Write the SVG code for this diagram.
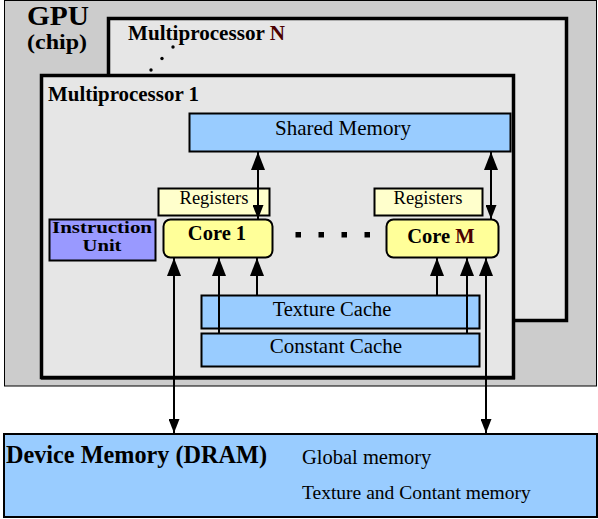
<svg xmlns="http://www.w3.org/2000/svg" width="598" height="519" viewBox="0 0 598 519">
<defs>
<style>
text{font-family:"Liberation Serif","Times New Roman",serif;fill:#000}
.b{font-weight:bold}
.blue{fill:#99ccff;stroke:#000;stroke-width:2}
.reg{fill:#ffffcc;stroke:#000;stroke-width:2}
.core{fill:#ffff99;stroke:#000;stroke-width:2}
.mp{fill:#e6e6e6;stroke:#000;stroke-width:3.5}
.c{stroke:#000;stroke-width:2;fill:none}
.mid{text-anchor:middle}
</style>
<marker id="ah" viewBox="0 0 18 14" refX="18" refY="7" markerWidth="18" markerHeight="14" markerUnits="userSpaceOnUse" orient="auto-start-reverse"><path d="M0,0 L18,7 L0,14 z" fill="#000"/></marker>
<marker id="as" viewBox="0 0 14 11" refX="14" refY="5.5" markerWidth="14" markerHeight="11" markerUnits="userSpaceOnUse" orient="auto-start-reverse"><path d="M0,0 L14,5.5 L0,11 z" fill="#000"/></marker>
</defs>

<g id="gpu">
<rect x="4.5" y="0.5" width="592" height="385.5" fill="#cccccc" stroke="#000" stroke-width="1"/>
<text class="b" x="27" y="25" font-size="27" textLength="62" lengthAdjust="spacingAndGlyphs">GPU</text>
<text class="b" x="27" y="48.5" font-size="20" textLength="60" lengthAdjust="spacingAndGlyphs">(chip)</text>
</g>

<g id="mpN">
<rect class="mp" x="108.5" y="18.5" width="458" height="302"/>
<text class="b" x="128" y="40" font-size="20" textLength="157" lengthAdjust="spacingAndGlyphs">Multiprocessor <tspan fill="#4a0000">N</tspan></text>
<circle cx="173" cy="47" r="1.7" fill="#000"/>
<circle cx="162" cy="58.5" r="1.7" fill="#000"/>
<circle cx="151" cy="70" r="1.7" fill="#000"/>
</g>

<g id="mp1">
<line x1="41" y1="379.5" x2="515" y2="379.5" stroke="#555" stroke-width="1"/>
<rect class="mp" x="41.5" y="75.5" width="472" height="302"/>
<text class="b" x="48" y="101" font-size="20" textLength="151" lengthAdjust="spacingAndGlyphs">Multiprocessor 1</text>
</g>

<g id="shared-memory">
<rect class="blue" x="189.5" y="113.5" width="321" height="38"/>
<text class="mid" x="343" y="135" font-size="21">Shared Memory</text>
</g>

<g id="registers-1">
<rect class="reg" x="158.5" y="188.5" width="111" height="27"/>
<text class="mid" x="214" y="204" font-size="18.5">Registers</text>
</g>

<g id="registers-m">
<rect class="reg" x="374.5" y="188.5" width="108" height="27"/>
<text class="mid" x="428" y="204" font-size="18.5">Registers</text>
</g>

<g id="instruction-unit">
<rect x="49.5" y="219.5" width="106" height="41" fill="#9999ff" stroke="#000" stroke-width="2"/>
<text class="b mid" x="102" y="233" font-size="16" textLength="100" lengthAdjust="spacingAndGlyphs">Instruction</text>
<text class="b mid" x="102" y="251" font-size="16.5" textLength="39" lengthAdjust="spacingAndGlyphs">Unit</text>
</g>

<g id="core-1">
<rect class="core" x="163.5" y="219.5" width="109" height="38" rx="7"/>
<text class="b mid" x="217" y="240" font-size="20.5">Core 1</text>
</g>

<g id="core-dots" fill="#000">
<rect x="295.5" y="232" width="5.5" height="5.5"/>
<rect x="318.5" y="232" width="5.5" height="5.5"/>
<rect x="341.5" y="232" width="5.5" height="5.5"/>
<rect x="364.5" y="232" width="5.5" height="5.5"/>
</g>

<g id="core-m">
<rect class="core" x="386.5" y="219.5" width="112" height="38" rx="7"/>
<text class="b mid" x="441" y="243" font-size="20.5">Core <tspan fill="#4a0000">M</tspan></text>
</g>

<g id="texture-cache">
<rect class="blue" x="201.5" y="295.5" width="278" height="33"/>
<text class="mid" x="332" y="316" font-size="20.5">Texture Cache</text>
</g>

<g id="constant-cache">
<rect class="blue" x="201.5" y="333.5" width="278" height="33"/>
<text class="mid" x="336" y="353" font-size="21">Constant Cache</text>
</g>

<g id="device-memory">
<rect class="blue" x="4" y="434" width="593" height="83"/>
<text class="b" x="6" y="463" font-size="25" textLength="261" lengthAdjust="spacingAndGlyphs">Device Memory (DRAM)</text>
<text x="302" y="464" font-size="20.5">Global memory</text>
<text x="302" y="499" font-size="19.5">Texture and Contant memory</text>
</g>

<g id="connectors" class="c">
<line class="c" x1="258" y1="152" x2="258" y2="219" marker-start="url(#ah)" marker-end="url(#as)"/>
<line class="c" x1="491" y1="152" x2="491" y2="219" marker-start="url(#ah)" marker-end="url(#as)"/>
<line class="c" x1="174" y1="258" x2="174" y2="433" marker-start="url(#ah)" marker-end="url(#as)"/>
<line class="c" x1="486" y1="258" x2="486" y2="433" marker-start="url(#ah)" marker-end="url(#as)"/>
<line class="c" x1="219" y1="333" x2="219" y2="258" marker-end="url(#ah)"/>
<line class="c" x1="257" y1="295" x2="257" y2="258" marker-end="url(#ah)"/>
<line class="c" x1="437" y1="295" x2="437" y2="258" marker-end="url(#ah)"/>
<line class="c" x1="467" y1="333" x2="467" y2="258" marker-end="url(#ah)"/>
</g>
</svg>
